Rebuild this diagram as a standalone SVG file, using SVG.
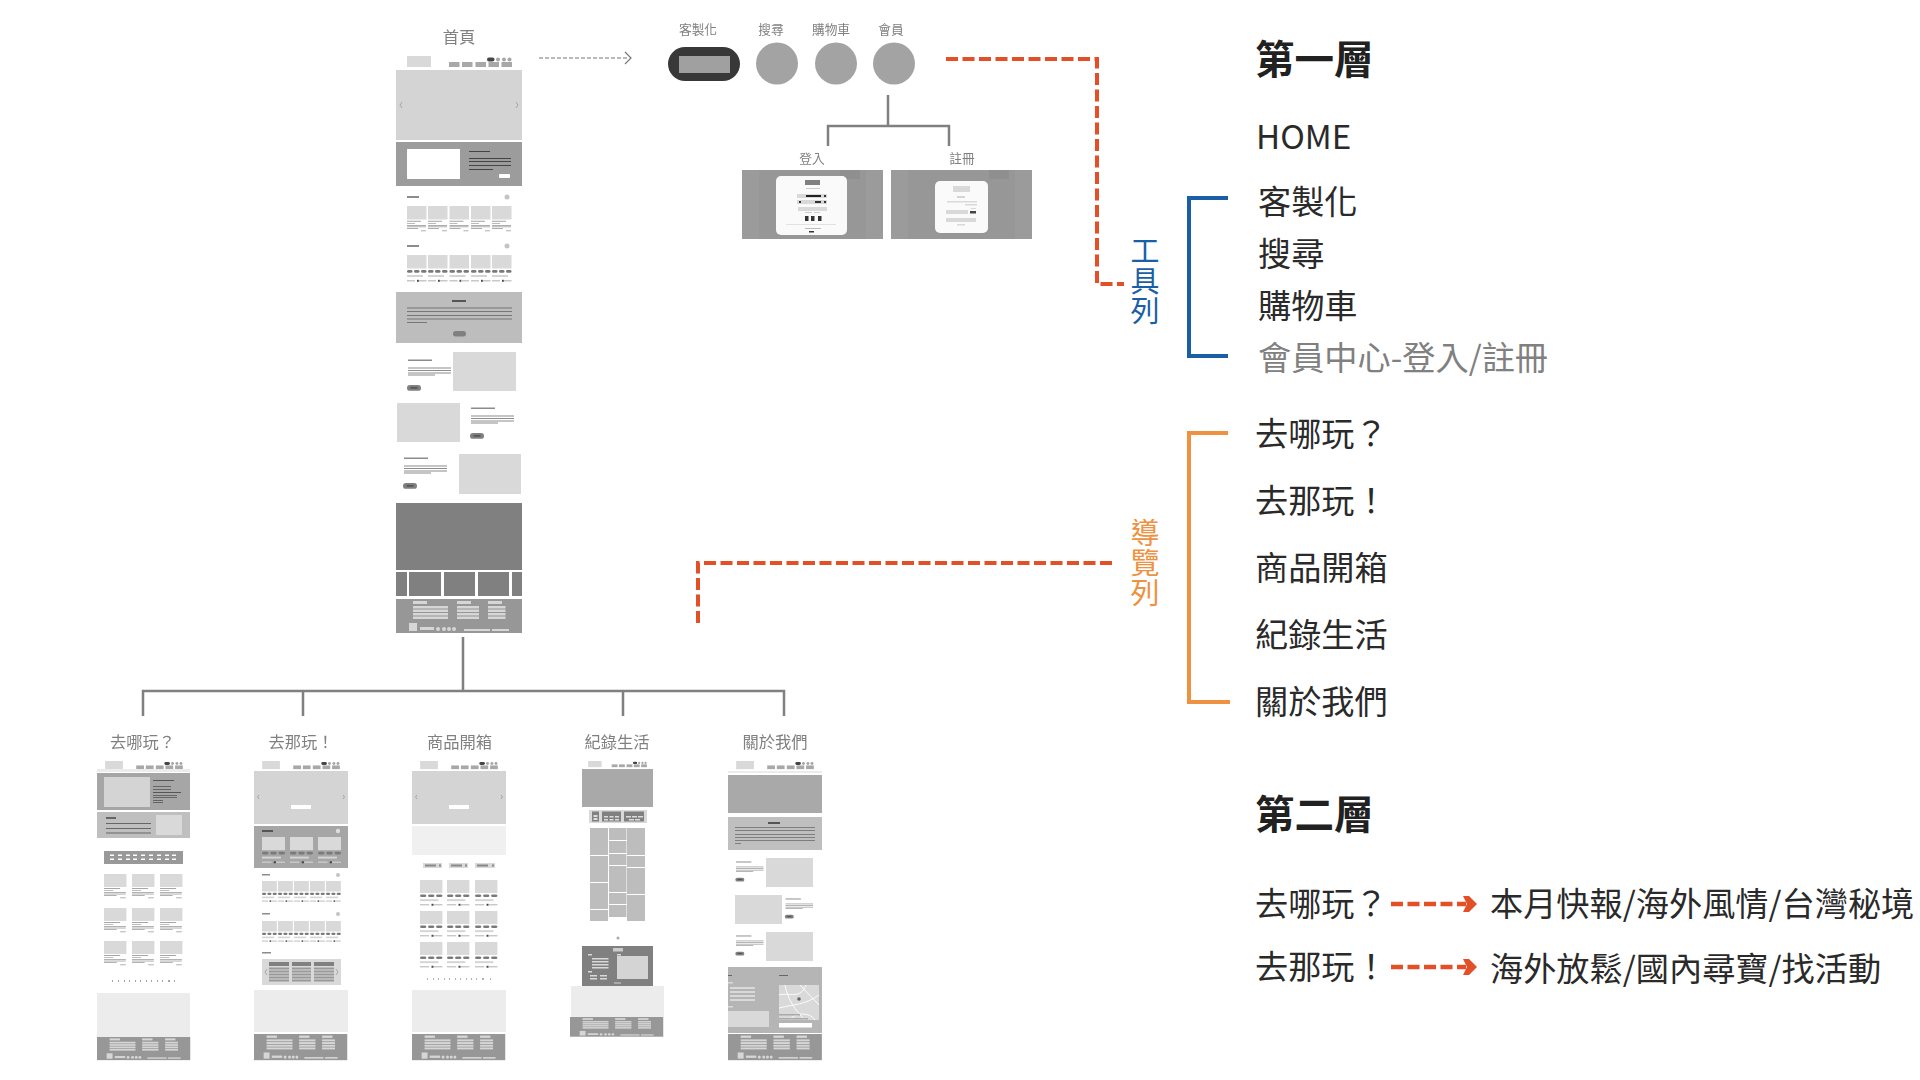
<svg xmlns="http://www.w3.org/2000/svg" width="1920" height="1080" viewBox="0 0 1920 1080">
<style>
text{font-family:"Noto Sans CJK TC","Noto Sans",sans-serif}
.t{font-size:16.300px;fill:#808080;text-anchor:middle;font-weight:400}
.s{font-size:12.700px;fill:#808080;text-anchor:middle;font-weight:400}
.h{font-size:39.500px;font-weight:700;fill:#212121}
.b{font-size:33.200px;fill:#2a2a2a}
.v{font-size:29px;writing-mode:vertical-rl;letter-spacing:1px}
.tree{fill:none;stroke:#808080;stroke-width:2.500}
.red{fill:none;stroke:#e34f26;stroke-width:4;stroke-dasharray:12 4.500}
.lb{fill:#d9d9d9}.h1{fill:#d4d4d4}.m{fill:#a6a6a6}.g{fill:#bfbfbf}.k{fill:#808080}.w{fill:#fff}.x{fill:#ececec}.tx{fill:#8c8c8c}.f{fill:#979797}.c{fill:#dcdcdc}
.chev{fill:none;stroke:#999;stroke-width:.8}
.soft{filter:url(#soft)}
</style>
<defs>
<filter id="soft" x="-5%" y="-5%" width="110%" height="110%"><feGaussianBlur stdDeviation=".4"/></filter>
<g id="hdr">
<rect class="lb" x="11" y="0" width="24" height="11"/>
<rect x="91" y="1.500" width="7.500" height="4" rx="2" fill="#444"/>
<circle cx="102" cy="3.500" r="2" fill="#a6a6a6"/><circle cx="108" cy="3.500" r="2" fill="#a6a6a6"/><circle cx="113.500" cy="3.500" r="2" fill="#a6a6a6"/>
<g fill="#a8a8a8"><rect x="53" y="6" width="10.500" height="5"/><rect x="66" y="6" width="10.500" height="5"/><rect x="79.500" y="6" width="10.500" height="5"/><rect x="92.500" y="6" width="10.500" height="5"/><rect x="105.500" y="6" width="10.500" height="5"/></g>
</g>
<g id="ftr">
<rect class="f" width="126" height="34"/>
<g fill="#d6d6d6">
<rect x="17" y="2" width="14" height="3"/><rect x="61" y="2" width="14" height="3"/><rect x="92" y="2" width="14" height="3"/>
<rect x="17" y="7" width="35" height="2.500"/><rect x="17" y="10.500" width="35" height="2.500"/><rect x="17" y="14" width="35" height="2.500"/><rect x="17" y="17.500" width="35" height="2.500"/>
<rect x="61" y="7" width="22" height="2.500"/><rect x="61" y="10.500" width="22" height="2.500"/><rect x="61" y="14" width="22" height="2.500"/><rect x="61" y="17.500" width="22" height="2.500"/>
<rect x="92" y="7" width="17.500" height="2.500"/><rect x="92" y="10.500" width="17.500" height="2.500"/><rect x="92" y="14" width="17.500" height="2.500"/><rect x="92" y="17.500" width="17.500" height="2.500"/>
<rect x="13" y="24" width="8" height="8"/><rect x="24" y="28" width="14" height="3"/>
<circle cx="42" cy="30" r="2"/><circle cx="48" cy="30" r="2"/><circle cx="53" cy="30" r="2"/><circle cx="58" cy="30" r="2"/>
<rect x="68" y="30" width="26" height="2"/><rect x="96" y="30" width="17" height="2"/>
</g>
</g>
<g id="prod">
<rect class="lb" width="19.500" height="13.500"/>
<g fill="#7a7a7a"><rect y="15" width="5.500" height="2.800" rx="1.400"/><rect x="7" y="15" width="5.500" height="2.800" rx="1.400"/><rect x="14" y="15" width="5.500" height="2.800" rx="1.400"/></g>
<rect y="20" width="16" height="2" fill="#d4d4d4"/>
<rect y="25" width="8" height="1.500" fill="#c8c8c8"/><rect x="10" y="24.800" width="1.800" height="2" fill="#444"/><rect x="12" y="25" width="7.500" height="1.500" fill="#c8c8c8"/>
</g>
<g id="art">
<rect class="lb" width="19.500" height="13.500"/>
<g class="tx"><rect y="14.800" width="14" height=".8"/><rect y="17" width="8" height=".6"/><rect y="19" width="19" height=".7"/><rect y="20.500" width="19" height=".7"/><rect y="22" width="11" height=".7"/><rect x="14" y="24.500" width="5" height=".7"/></g>
</g>
<g id="txt">
<rect class="tx" width="24" height="1.500"/>
<g class="tx"><rect y="8" width="43" height="1"/><rect y="10.500" width="43" height="1"/><rect y="13" width="43" height="1"/><rect y="15" width="27" height="1"/></g>
<rect x="-1" y="25.500" width="14" height="5.800" rx="2.900" fill="#808080"/><rect x="2.500" y="27.800" width="7" height="1.200" fill="#444"/>
</g>
</defs>

<g id="connectors">
<path class="tree" d="M463 637V691M143 716V691H784V716M303 691V716M623 691V716"/>
<path class="tree" d="M888 95V126M828 146V126H949V146"/>
<path d="M539 58H628" fill="none" stroke="#777" stroke-width="1.200" stroke-dasharray="4 2"/>
<path d="M625 52L631 58L625 64" fill="none" stroke="#777" stroke-width="1.200"/>
<path class="red" d="M946 59H1097V284H1124"/>
<path class="red" d="M1112 563H698V625"/>
<path d="M1391 904H1466" fill="none" stroke="#e34f26" stroke-width="4.500" stroke-dasharray="12 4.500"/>
<path d="M1391 967H1466" fill="none" stroke="#e34f26" stroke-width="4.500" stroke-dasharray="12 4.500"/>
<path d="M1463 896H1469L1477 904L1469 912H1463L1467 904Z" fill="#e34f26"/>
<path d="M1463 959H1469L1477 967L1469 975H1463L1467 967Z" fill="#e34f26"/>
</g>

<g id="page-home" class="soft">
<text class="t" x="459" y="43">首頁</text>
<use href="#hdr" transform="translate(396 56)"/>
<rect class="h1" x="396" y="70" width="126" height="70"/>
<path class="chev" d="M402 102L400 105L402 108M516 102L518 105L516 108"/>
<rect x="396" y="142" width="126" height="44" fill="#9c9c9c"/>
<rect class="w" x="407" y="149" width="53" height="30"/>
<g fill="#444"><rect x="469" y="151" width="21" height="1"/><rect x="469" y="158" width="42" height="1"/><rect x="469" y="161" width="42" height="1"/><rect x="469" y="165" width="42" height="1"/><rect x="469" y="169" width="24" height="1"/></g>
<rect class="w" x="499" y="174" width="11" height="4" rx="1"/>
<rect class="tx" x="407" y="196" width="12" height="2"/><circle cx="507" cy="197" r="2.500" fill="#c4c4c4"/>
<use href="#art" transform="translate(407 206)"/><use href="#art" transform="translate(428 206)"/><use href="#art" transform="translate(449.500 206)"/><use href="#art" transform="translate(471 206)"/><use href="#art" transform="translate(492 206)"/>
<rect class="tx" x="407" y="245" width="12" height="2"/><circle cx="507" cy="246" r="2.500" fill="#c4c4c4"/>
<use href="#prod" transform="translate(407 255)"/><use href="#prod" transform="translate(428 255)"/><use href="#prod" transform="translate(449.500 255)"/><use href="#prod" transform="translate(471 255)"/><use href="#prod" transform="translate(492 255)"/>
<rect x="396" y="292" width="126" height="51" fill="#bdbdbd"/>
<rect fill="#555" x="452" y="300" width="14" height="2"/>
<g fill="#777"><rect x="407" y="307.500" width="105" height="1"/><rect x="407" y="311" width="105" height="1"/><rect x="407" y="315" width="105" height="1"/><rect x="407" y="318.500" width="105" height="1"/><rect x="407" y="322" width="20" height="1"/></g>
<rect x="453" y="331" width="13" height="5.500" rx="2.700" fill="#808080"/>
<rect class="lb" x="453" y="352" width="63" height="39"/><use href="#txt" transform="translate(408 359.500)"/>
<rect class="lb" x="397" y="403" width="63" height="39"/><use href="#txt" transform="translate(471 407.500)"/>
<rect class="lb" x="459" y="454" width="62" height="40"/><use href="#txt" transform="translate(404 457.500)"/>
<rect class="k" x="396" y="503" width="126" height="67"/>
<rect class="k" x="396" y="572" width="11" height="24"/><rect class="k" x="409" y="572" width="32" height="24"/><rect class="k" x="444" y="572" width="31" height="24"/><rect class="k" x="478" y="572" width="31" height="24"/><rect class="k" x="512" y="572" width="10" height="24"/>
<use href="#ftr" transform="translate(396 599)"/>
</g>

<g id="tool-icons" class="soft">
<text class="s" x="698" y="34">客製化</text><text class="s" x="771" y="34">搜尋</text><text class="s" x="831" y="34">購物車</text><text class="s" x="891" y="34">會員</text>
<rect x="668" y="47" width="72" height="34" rx="17" fill="#383838"/>
<rect x="679" y="56" width="51" height="17" fill="#a0a0a0"/>
<circle cx="777" cy="63.500" r="21" fill="#a3a3a3"/><circle cx="836" cy="63.500" r="21" fill="#a3a3a3"/><circle cx="894" cy="63.500" r="21" fill="#a3a3a3"/>
</g>

<g id="login" class="soft">
<text class="s" x="812" y="163">登入</text>
<rect x="742" y="170" width="141" height="69" fill="#9b9b9b"/>
<rect x="759" y="170" width="107" height="69" fill="#979797"/>
<rect x="840" y="170" width="20" height="9" fill="#8f8f8f"/>
<rect x="776" y="176" width="71" height="59" rx="5" fill="#fafafa"/>
<rect class="k" x="805" y="180" width="15" height="5"/>
<rect x="806" y="188" width="14" height="1" fill="#ccc"/>
<rect class="lb" x="797" y="194" width="30" height="4"/><rect x="806" y="195" width="15" height="2" fill="#222"/><rect x="824" y="195" width="2" height="2" fill="#333"/>
<rect class="lb" x="797" y="200" width="30" height="4"/><rect x="815" y="201" width="6" height="2" fill="#333"/><rect x="824" y="201" width="2" height="2" fill="#333"/><rect x="799" y="201" width="2" height="2" fill="#333"/>
<rect class="lb" x="798" y="207" width="29" height="4"/>
<rect x="805" y="212" width="7" height="1" fill="#ccc"/><rect x="814" y="212" width="6" height="1" fill="#ccc"/>
<g fill="#333"><rect x="805" y="216" width="3.500" height="5"/><rect x="811" y="216" width="3.500" height="5"/><rect x="818" y="216" width="3.500" height="5"/></g>
<rect x="786" y="224" width="50" height=".8" fill="#ddd"/>
<rect x="805" y="228" width="16" height="1" fill="#bbb"/><rect x="809" y="231" width="5" height="1.500" fill="#333"/>
</g>

<g id="register" class="soft">
<text class="s" x="962" y="163">註冊</text>
<rect x="891" y="170" width="141" height="69" fill="#9b9b9b"/>
<rect x="908" y="170" width="107" height="69" fill="#979797"/>
<rect x="989" y="170" width="20" height="9" fill="#8f8f8f"/>
<rect x="935" y="181" width="53" height="52" rx="5" fill="#fafafa"/>
<rect class="lb" x="953" y="186" width="17" height="6"/>
<rect x="957" y="196" width="8" height="2" fill="#d4d4d4"/>
<rect class="lb" x="947" y="201" width="30" height="1.500"/><rect class="lb" x="965" y="204" width="12" height="1.500"/>
<rect class="lb" x="946" y="210" width="22" height="4"/><rect x="970" y="211" width="6" height="2.500" fill="#444"/><rect class="lb" x="971" y="208" width="5" height="1"/>
<rect class="lb" x="946" y="218" width="30" height="4"/>
<rect class="lb" x="957" y="224" width="8" height="1.500"/>
</g>

<g id="page-where" class="soft">
<text class="t" x="142.500" y="748">去哪玩？</text>
<use href="#hdr" transform="translate(97 761) scale(.74)"/>
<rect class="x" x="97" y="769" width="93" height="3"/>
<rect class="m" x="97" y="773" width="93" height="37"/>
<rect class="h1" x="104" y="777" width="46" height="30"/>
<g fill="#555"><rect x="153" y="780" width="21" height="1"/><rect x="153" y="786" width="18" height=".8"/><rect x="153" y="789" width="18" height=".8"/><rect x="153" y="792" width="28" height="1"/><rect x="153" y="795" width="24" height=".8"/><rect x="153" y="797" width="24" height=".8"/><rect x="153" y="800" width="10" height=".8"/><rect x="153" y="802" width="10" height=".8"/></g>
<rect class="g" x="97" y="812" width="93" height="26"/>
<g fill="#666"><rect x="106" y="817" width="10" height="2"/><rect x="106" y="823" width="45" height="1"/><rect x="106" y="828" width="45" height="1"/><rect x="106" y="832.500" width="45" height="1"/></g>
<rect class="lb" x="156" y="815" width="26" height="20"/>
<rect x="104" y="851" width="79" height="13" fill="#999"/>
<g class="w"><rect x="110" y="854.500" width="4" height="1.500"/><rect x="118" y="854.500" width="4" height="1.500"/><rect x="126" y="854.500" width="4" height="1.500"/><rect x="133" y="854.500" width="4" height="1.500"/><rect x="141" y="854.500" width="4" height="1.500"/><rect x="149" y="854.500" width="4" height="1.500"/><rect x="157" y="854.500" width="4" height="1.500"/><rect x="165" y="854.500" width="4" height="1.500"/><rect x="172" y="854.500" width="4" height="1.500"/>
<rect x="110" y="858.500" width="4" height="1.500"/><rect x="118" y="858.500" width="4" height="1.500"/><rect x="126" y="858.500" width="4" height="1.500"/><rect x="133" y="858.500" width="4" height="1.500"/><rect x="141" y="858.500" width="4" height="1.500"/><rect x="149" y="858.500" width="4" height="1.500"/><rect x="157" y="858.500" width="4" height="1.500"/><rect x="165" y="858.500" width="4" height="1.500"/><rect x="172" y="858.500" width="4" height="1.500"/></g>
<use href="#art" transform="translate(104 874) scale(1.150 .96)"/><use href="#art" transform="translate(132 874) scale(1.150 .96)"/><use href="#art" transform="translate(160 874) scale(1.150 .96)"/>
<use href="#art" transform="translate(104 908) scale(1.150 .96)"/><use href="#art" transform="translate(132 908) scale(1.150 .96)"/><use href="#art" transform="translate(160 908) scale(1.150 .96)"/>
<use href="#art" transform="translate(104 941) scale(1.150 .96)"/><use href="#art" transform="translate(132 941) scale(1.150 .96)"/><use href="#art" transform="translate(160 941) scale(1.150 .96)"/>
<path d="M112 981h1M118 981h1M124 981h1M129 981h1M135 981h1M140 981h1M146 981h1M151 981h1M157 981h1M162 981h1M168 981h2M174 981h1" stroke="#888" stroke-width="1.500" fill="none"/>
<rect class="x" x="97" y="993" width="93" height="44"/>
<use href="#ftr" transform="translate(97 1037) scale(.74 .68)"/>
</g>

<g id="page-there" class="soft">
<text class="t" x="301" y="748">去那玩！</text>
<use href="#hdr" transform="translate(254 761) scale(.74)"/>
<rect class="h1" x="254" y="771" width="94" height="53"/>
<path class="chev" d="M259 795L257.500 797L259 799M343 795L344.500 797L343 799"/>
<rect class="w" x="291" y="805" width="20" height="4"/>
<rect class="m" x="254" y="826" width="94" height="42"/>
<rect fill="#555" x="262" y="830" width="11" height="2"/><circle cx="338" cy="831" r="2.200" fill="#ddd"/>
<use href="#prod" transform="translate(262 837) scale(1.180 .98)"/><use href="#prod" transform="translate(290 837) scale(1.180 .98)"/><use href="#prod" transform="translate(318 837) scale(1.180 .98)"/>
<rect class="tx" x="262" y="874" width="8" height="1.500"/><circle cx="338" cy="875" r="2" fill="#c4c4c4"/>
<use href="#prod" transform="translate(262 881) scale(.76 .78)"/><use href="#prod" transform="translate(278 881) scale(.76 .78)"/><use href="#prod" transform="translate(294 881) scale(.76 .78)"/><use href="#prod" transform="translate(310 881) scale(.76 .78)"/><use href="#prod" transform="translate(326 881) scale(.76 .78)"/>
<rect class="tx" x="262" y="913" width="8" height="1.500"/><circle cx="338" cy="914" r="2" fill="#c4c4c4"/>
<use href="#prod" transform="translate(262 921) scale(.76 .78)"/><use href="#prod" transform="translate(278 921) scale(.76 .78)"/><use href="#prod" transform="translate(294 921) scale(.76 .78)"/><use href="#prod" transform="translate(310 921) scale(.76 .78)"/><use href="#prod" transform="translate(326 921) scale(.76 .78)"/>
<rect class="tx" x="262" y="952" width="9" height="1.500"/>
<rect class="lb" x="262" y="959" width="79" height="26"/>
<path class="chev" d="M267 969L265 972L267 975M336 969L338 972L336 975"/>
<g class="k"><rect x="269" y="962" width="20" height="4"/><rect x="292" y="962" width="19" height="4"/><rect x="314" y="962" width="20" height="4"/></g>
<path d="M269 968.500H289M269 971.500H289M269 974.500H289M269 977.500H289M269 980.500H289M292 968.500H311M292 971.500H311M292 974.500H311M292 977.500H311M292 980.500H311M314 968.500H334M314 971.500H334M314 974.500H334M314 977.500H334M314 980.500H334" stroke="#999" stroke-width="2" fill="none"/>
<rect class="x" x="254" y="990" width="94" height="42"/>
<use href="#ftr" transform="translate(254 1034) scale(.74 .77)"/>
</g>

<g id="page-products" class="soft">
<text class="t" x="459.500" y="748">商品開箱</text>
<use href="#hdr" transform="translate(412 761) scale(.74)"/>
<rect class="h1" x="412" y="771" width="94" height="53"/>
<path class="chev" d="M417 795L415.500 797L417 799M501 795L502.500 797L501 799"/>
<rect class="w" x="449" y="805" width="20" height="4"/>
<rect x="412" y="826" width="94" height="29" fill="#f0f0f0"/>
<g class="lb"><rect x="423" y="863" width="19" height="5"/><rect x="449" y="863" width="19" height="5"/><rect x="475" y="863" width="20" height="5"/></g>
<g fill="#888"><rect x="425" y="864.500" width="11" height="2"/><rect x="451" y="864.500" width="11" height="2"/><rect x="477" y="864.500" width="11" height="2"/><rect x="439" y="864.500" width="2" height="2"/><rect x="465" y="864.500" width="2" height="2"/><rect x="492" y="864.500" width="2" height="2"/></g>
<use href="#prod" transform="translate(420 880) scale(1.150 .96)"/><use href="#prod" transform="translate(447 880) scale(1.150 .96)"/><use href="#prod" transform="translate(475 880) scale(1.150 .96)"/>
<use href="#prod" transform="translate(420 911) scale(1.150 .96)"/><use href="#prod" transform="translate(447 911) scale(1.150 .96)"/><use href="#prod" transform="translate(475 911) scale(1.150 .96)"/>
<use href="#prod" transform="translate(420 942) scale(1.150 .96)"/><use href="#prod" transform="translate(447 942) scale(1.150 .96)"/><use href="#prod" transform="translate(475 942) scale(1.150 .96)"/>
<path d="M427 979h1M433 979h1M438 979h1M444 979h1M449 979h1M455 979h1M460 979h1M466 979h1M471 979h1M476 979h1M482 979h2M490 979h1" stroke="#999" stroke-width="1.500" fill="none"/>
<rect class="x" x="412" y="990" width="94" height="42"/>
<use href="#ftr" transform="translate(412 1034) scale(.74 .77)"/>
</g>

<g id="page-life" class="soft">
<text class="t" x="617" y="748">紀錄生活</text>
<use href="#hdr" transform="translate(582 761) scale(.56)"/>
<rect x="582" y="769" width="71" height="38" fill="#a9a9a9"/>
<rect class="lb" x="589" y="810" width="58" height="13"/>
<g class="k"><rect x="592" y="811.500" width="7" height="10"/><rect x="602" y="811.500" width="19" height="10"/><rect x="624" y="811.500" width="20" height="10"/></g>
<g class="c"><rect x="593.500" y="815" width="4" height="2"/><rect x="593.500" y="818" width="4" height="2"/><rect x="604" y="816" width="4" height="1.500"/><rect x="609.500" y="816" width="4" height="1.500"/><rect x="615" y="816" width="4" height="1.500"/><rect x="604" y="819" width="4" height="1.500"/><rect x="609.500" y="819" width="4" height="1.500"/><rect x="615" y="819" width="4" height="1.500"/><rect x="626" y="816" width="5" height="1.500"/><rect x="632" y="816" width="5" height="1.500"/><rect x="638" y="816" width="5" height="1.500"/><rect x="629" y="819" width="5" height="1.500"/><rect x="635" y="819" width="5" height="1.500"/></g>
<g fill="#bdbdbd">
<rect x="590" y="828" width="18" height="27"/><rect x="590" y="856" width="18" height="26"/><rect x="590" y="883" width="18" height="26"/><rect x="590" y="910" width="18" height="11"/>
<rect x="609" y="828" width="17.500" height="12"/><rect x="609" y="841" width="17.500" height="12"/><rect x="609" y="854" width="17.500" height="11"/><rect x="609" y="866" width="17.500" height="26"/><rect x="609" y="893" width="17.500" height="11"/><rect x="609" y="905" width="17.500" height="12"/>
<rect x="627" y="828" width="18" height="27"/><rect x="627" y="856" width="18" height="11"/><rect x="627" y="868" width="18" height="26"/><rect x="627" y="895" width="18" height="26"/>
</g>
<circle cx="618" cy="938" r="1.500" fill="#aaa"/>
<rect class="k" x="582" y="946" width="71" height="40"/>
<rect fill="#ccc" x="613" y="948" width="10" height="3.500"/>
<g class="lb"><rect x="588" y="954" width="4" height="1.500"/><rect x="592" y="958" width="16.500" height="1.500"/><rect x="592" y="961" width="16.500" height="1.500"/><rect x="592" y="964" width="16.500" height="1.500"/><rect x="592" y="967" width="16.500" height="1.500"/><rect x="588" y="971" width="4" height="1.500"/><rect x="590" y="975" width="7" height="1.500"/><rect x="590" y="978" width="7" height="1.500"/><rect x="600" y="975" width="7" height="1.500"/><rect x="600" y="978" width="7" height="1.500"/><rect x="617" y="954" width="4" height="1.500"/></g>
<rect class="h1" x="617" y="956" width="31" height="23"/>
<rect fill="#aaa" x="614" y="982" width="7" height="2"/>
<rect class="x" x="571" y="986" width="93" height="31"/>
<use href="#ftr" transform="translate(570 1017) scale(.74 .58)"/>
</g>

<g id="page-about" class="soft">
<text class="t" x="775" y="748">關於我們</text>
<use href="#hdr" transform="translate(728 761) scale(.74)"/>
<rect class="x" x="728" y="771" width="94" height="2"/>
<rect x="728" y="775" width="94" height="38" fill="#a9a9a9"/>
<rect class="g" x="728" y="817" width="94" height="33"/>
<rect fill="#555" x="768" y="822" width="12" height="2"/>
<g fill="#777"><rect x="735" y="827" width="80" height=".9"/><rect x="735" y="830" width="80" height=".9"/><rect x="735" y="834" width="80" height=".9"/><rect x="735" y="837" width="80" height=".9"/><rect x="735" y="840" width="80" height=".9"/><rect x="735" y="843" width="6" height=".9"/></g>
<rect class="lb" x="766" y="858" width="47" height="29"/><use href="#txt" transform="translate(736 861.500) scale(.64)"/>
<rect class="lb" x="735" y="895" width="47" height="29"/><use href="#txt" transform="translate(785.500 898.500) scale(.64)"/>
<rect class="lb" x="766" y="932" width="47" height="29"/><use href="#txt" transform="translate(736 935.500) scale(.64)"/>
<rect x="728" y="967" width="94" height="66" fill="#b5b5b5"/>
<rect fill="#666" x="728" y="975" width="4" height="1"/><rect fill="#666" x="779" y="975" width="9" height="1"/>
<g class="lb"><rect x="728" y="982" width="5" height="1.500"/><rect x="730" y="987" width="25" height="2"/><rect x="730" y="991" width="25" height="2"/><rect x="730" y="995" width="25" height="2"/><rect x="730" y="999" width="25" height="2"/><rect x="728" y="1006" width="5" height="1.500"/></g>
<rect class="lb" x="728" y="1011" width="41" height="16"/>
<rect x="779" y="985" width="40" height="35" class="lb"/>
<path d="M779 995C790 992 800 1000 806 985M785 985C788 1000 795 1010 805 1020M779 1008C795 1004 805 1005 819 995M800 985L819 1005M790 1020C795 1012 810 1012 815 1020" fill="none" stroke="#fff" stroke-width=".9"/>
<circle cx="799" cy="999" r="1.800" fill="#666"/>
<rect fill="#aaa" x="779" y="1014" width="21" height="1.500"/><rect fill="#aaa" x="779" y="1018" width="29" height="1.500"/>
<rect class="w" x="779" y="1023" width="33" height="4.500"/>
<use href="#ftr" transform="translate(728 1034) scale(.745 .77)"/>
</g>

<g id="labels">
<text class="v" x="1145" y="236" fill="#1a5fa5">工具列</text>
<text class="v" x="1145" y="518" fill="#ee9140">導覽列</text>
<path d="M1228 198H1189V356H1228" fill="none" stroke="#1a5fa5" stroke-width="4"/>
<path d="M1228 433H1189V702H1230" fill="none" stroke="#ee9140" stroke-width="4"/>
<text class="h" x="1255" y="74">第一層</text>
<text class="b" x="1256" y="149">HOME</text>
<text class="b" x="1258" y="214">客製化</text>
<text class="b" x="1258" y="266">搜尋</text>
<text class="b" x="1258" y="318">購物車</text>
<text class="b" x="1258" y="370" style="fill:#808080">會員中心-登入/註冊</text>
<text class="b" x="1255" y="446">去哪玩？</text>
<text class="b" x="1255" y="513">去那玩！</text>
<text class="b" x="1255" y="580">商品開箱</text>
<text class="b" x="1255" y="647">紀錄生活</text>
<text class="b" x="1255" y="714">關於我們</text>
<text class="h" x="1255" y="829">第二層</text>
<text class="b" x="1255" y="916">去哪玩？</text>
<text class="b" x="1255" y="979">去那玩！</text>
<text class="b" x="1490" y="916">本月快報/海外風情/台灣秘境</text>
<text class="b" x="1490" y="981">海外放鬆/國內尋寶/找活動</text>
</g>
</svg>
